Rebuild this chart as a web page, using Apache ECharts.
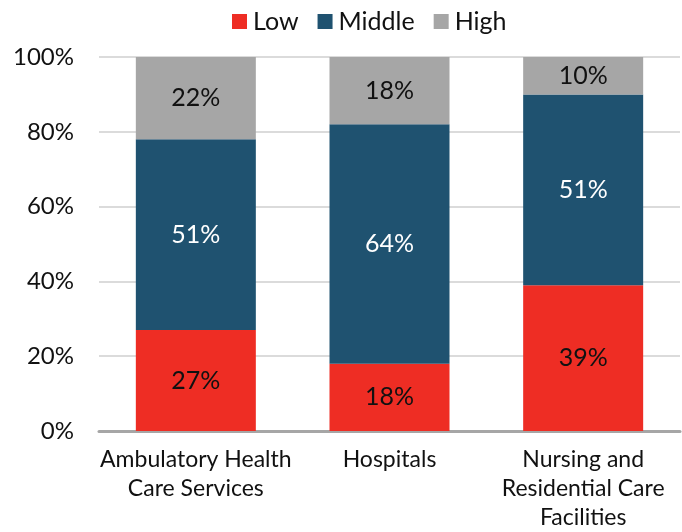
<!DOCTYPE html>
<html>
<head>
<meta charset="utf-8">
<script src="https://cdn.jsdelivr.net/npm/echarts@6/dist/echarts.min.js"></script>
<style>
  html, body { margin: 0; padding: 0; background: #fff; }
  #chart { width: 682px; height: 532px; }
</style>
</head>
<body>
<div id="chart"></div>
<script>
const categories = ['Ambulatory Health\nCare Services', 'Hospitals', 'Nursing and\nResidential Care\nFacilities']
const lowValues = [27, 18, 39]
const middleValues = [51, 64, 51]
const highValues = [22, 18, 10]
const yTicks = [0, 20, 40, 60, 80, 100]

const font = 'Lato, "Open Sans", sans-serif'
const chart = echarts.init(document.getElementById('chart'), null, { renderer: 'canvas' })

function barSeries(name, data, color, labelColor) {
  return {
    name,
    type: 'bar',
    stack: 'total',
    data,
    barWidth: 120,
    itemStyle: { color },
    label: {
      show: true,
      position: 'inside',
      formatter: '{c}%',
      color: labelColor,
      fontFamily: font,
      fontSize: 25,
    },
  }
}

chart.setOption({
  animation: false,
  textStyle: { fontFamily: font },
  legend: {
    top: 4,
    left: 227,
    itemWidth: 15,
    itemHeight: 15,
    itemGap: 19,
    icon: 'rect',
    textStyle: { fontSize: 25, color: '#111', fontFamily: font, padding: [0, 0, 0, 1] },
  },
  grid: { left: 99, right: 2, top: 57, bottom: 100 },
  xAxis: {
    type: 'category',
    data: categories,
    axisTick: { show: false },
    axisLine: { lineStyle: { color: '#A6A6A6', width: 3 } },
    axisLabel: {
      color: '#111',
      fontSize: 23,
      lineHeight: 29,
      margin: 14,
      interval: 0,
    },
  },
  yAxis: {
    type: 'value',
    min: yTicks[0],
    max: yTicks[yTicks.length - 1],
    interval: 20,
    axisLine: { show: false },
    axisTick: { show: false },
    axisLabel: { color: '#111', fontSize: 24, margin: 25, formatter: '{value}%' },
    splitLine: { lineStyle: { color: '#CFCFCF', width: 1.5 } },
  },
  series: [
    barSeries('Low', lowValues, '#EE2D24', '#111'),
    barSeries('Middle', middleValues, '#1F5270', '#fff'),
    barSeries('High', highValues, '#A6A6A6', '#111'),
  ],
})
</script>
</body>
</html>
